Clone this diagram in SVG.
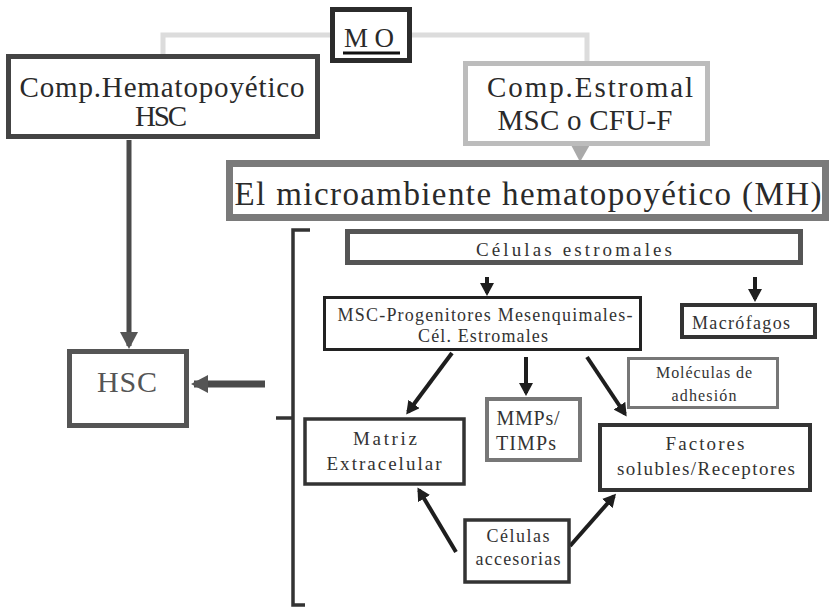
<svg xmlns="http://www.w3.org/2000/svg" width="832" height="609" viewBox="0 0 832 609">
<defs>
<style>
.box{fill:#fff}
.t{font-family:"Liberation Serif","DejaVu Serif",serif;fill:#2a2a2a;text-anchor:middle}
.s{font-family:"Liberation Serif","DejaVu Serif",serif;fill:#333;text-anchor:middle}
.ar{stroke:#1e1e1e;stroke-width:4;fill:none}
</style>
<marker id="ah" markerUnits="userSpaceOnUse" markerWidth="14" markerHeight="14" refX="10" refY="7" orient="auto"><path d="M0,0 L13,7 L0,14 z" fill="#1e1e1e"/></marker>
<marker id="ahg" markerUnits="userSpaceOnUse" markerWidth="18" markerHeight="18" refX="14" refY="9" orient="auto"><path d="M0,0 L17,9 L0,18 z" fill="#555"/></marker>
</defs>
<rect width="832" height="609" fill="#fff"/>
<g id="connectors">
<polyline points="163,57 163,35 330,35" fill="none" stroke="#dcdcdc" stroke-width="5"/>
<polyline points="412,35 587,35 587,61" fill="none" stroke="#dcdcdc" stroke-width="5"/>
<polygon points="570,143 591,143 580,162" fill="#aaa"/>
<line x1="129" y1="140" x2="129" y2="346" stroke="#4a4a4a" stroke-width="5" marker-end="url(#ahg)"/>
<line x1="265" y1="384" x2="194" y2="384" stroke="#4a4a4a" stroke-width="7" marker-end="url(#ahg)"/>
<line class="ar" x1="487" y1="277" x2="487" y2="293" marker-end="url(#ah)"/>
<line class="ar" x1="755" y1="277" x2="755" y2="299" marker-end="url(#ah)"/>
<line class="ar" x1="526" y1="357" x2="526" y2="393" marker-end="url(#ah)"/>
<line class="ar" x1="452" y1="353" x2="408" y2="412" marker-end="url(#ah)"/>
<line class="ar" x1="587" y1="357" x2="625" y2="414" marker-end="url(#ah)"/>
<line class="ar" x1="456" y1="552" x2="419" y2="490" marker-end="url(#ah)"/>
<line class="ar" x1="570" y1="546" x2="614" y2="496" marker-end="url(#ah)"/>
<polyline points="310,230 293,230 293,605 305,605" fill="none" stroke="#333" stroke-width="3.5"/>
<line x1="276" y1="418" x2="293" y2="418" stroke="#333" stroke-width="3.5"/>
</g>
<g id="mo">
<rect class="box" x="332.5" y="9.5" width="77" height="51" stroke="#2b2b2b" stroke-width="5"/>
<text class="t" x="369" y="47" font-size="27" textLength="50">MO</text>
<line x1="343" y1="53" x2="400" y2="53" stroke="#111" stroke-width="3"/>
</g>
<g id="comp-hema">
<rect class="box" x="8.5" y="56.5" width="309" height="80" stroke="#444" stroke-width="5"/>
<text class="t" x="162" y="97" font-size="29" textLength="285">Comp.Hematopoyético</text>
<text class="t" x="161" y="126" font-size="29" textLength="52">HSC</text>
</g>
<g id="comp-estromal">
<rect class="box" x="465.5" y="63.5" width="242" height="80" stroke="#bcbcbc" stroke-width="5"/>
<text class="t" x="590" y="97" font-size="29" textLength="206">Comp.Estromal</text>
<text class="t" x="585" y="130" font-size="29" textLength="175">MSC o CFU-F</text>
</g>
<g id="mh">
<rect class="box" x="229.5" y="163.5" width="596" height="54" stroke="#7a7a7a" stroke-width="7"/>
<text class="t" x="528" y="205" font-size="33" textLength="587">El microambiente hematopoyético (MH)</text>
</g>
<g id="celulas-estromales">
<rect class="box" x="347.5" y="231.5" width="453" height="31" stroke="#555" stroke-width="5"/>
<text class="s" x="574" y="256" font-size="19" textLength="196">Células estromales</text>
</g>
<g id="msc">
<rect class="box" x="324.5" y="297.5" width="316" height="52" stroke="#222" stroke-width="3"/>
<text class="s" x="485" y="321" font-size="18" textLength="295">MSC-Progenitores Mesenquimales-</text>
<text class="s" x="483" y="342" font-size="18" textLength="130">Cél. Estromales</text>
</g>
<g id="macrofagos">
<rect class="box" x="682" y="305" width="133" height="32" stroke="#333" stroke-width="4"/>
<text class="s" x="741" y="329" font-size="18" textLength="98">Macrófagos</text>
</g>
<g id="moleculas">
<rect class="box" x="628.5" y="358.5" width="149" height="49" stroke="#777" stroke-width="3"/>
<text class="s" x="704" y="378" font-size="16" textLength="96">Moléculas de</text>
<text class="s" x="704" y="401" font-size="16" textLength="65">adhesión</text>
</g>
<g id="mmps">
<rect class="box" x="487" y="399" width="93" height="61" stroke="#777" stroke-width="4"/>
<text class="s" x="528" y="425" font-size="20" textLength="63">MMPs/</text>
<text class="s" x="526" y="450" font-size="20" textLength="60">TIMPs</text>
</g>
<g id="matriz">
<rect class="box" x="305" y="419" width="159" height="65" stroke="#333" stroke-width="3.5"/>
<text class="s" x="385" y="445" font-size="19" textLength="64">Matriz</text>
<text class="s" x="384" y="470" font-size="19" textLength="115">Extracelular</text>
</g>
<g id="factores">
<rect class="box" x="600" y="425" width="210" height="65" stroke="#333" stroke-width="4"/>
<text class="s" x="705" y="450" font-size="19" textLength="79">Factores</text>
<text class="s" x="706" y="475" font-size="19" textLength="178">solubles/Receptores</text>
</g>
<g id="accesorias">
<rect class="box" x="465" y="520" width="104" height="62" stroke="#333" stroke-width="3.5"/>
<text class="s" x="518" y="542" font-size="18" textLength="63">Células</text>
<text class="s" x="518" y="565" font-size="18" textLength="85">accesorias</text>
</g>
<g id="hsc">
<rect class="box" x="69.5" y="351.5" width="117" height="74" stroke="#555" stroke-width="5"/>
<text class="t" x="127" y="392" font-size="30" textLength="60" style="fill:#555">HSC</text>
</g>
</svg>
